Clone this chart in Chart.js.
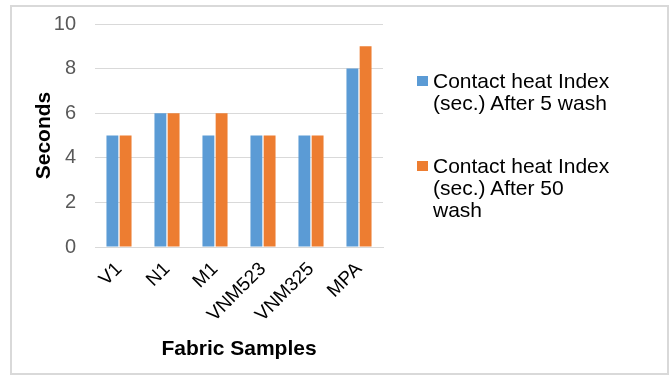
<!DOCTYPE html>
<html>
<head>
<meta charset="utf-8">
<script src="https://cdn.jsdelivr.net/npm/chart.js@4"></script>
<style>
  body { margin: 0; background: #fff; }
  #wrap { position: relative; width: 670px; height: 376px; }
  #frame { position: absolute; left: 10px; top: 5px; width: 655px; height: 366px; border: 2px solid #d9d9d9; }
  canvas { position: absolute; left: 0; top: 0; }
  .leg { position: absolute; left: 433px; font: 21px "Liberation Sans", Arial, sans-serif; line-height: 22px; color: #000; white-space: nowrap; }
  .box { position: absolute; left: -16px; top: 6px; width: 11px; height: 10px; }
</style>
</head>
<body>
<div id="wrap">
  <div id="frame"></div>
  <canvas id="grafico" width="670" height="376"></canvas>
  <div id="legenda"></div>
</div>
<script>
// DADOS
const categorias = ["V1", "N1", "M1", "VNM523", "VNM325", "MPA"];
const serie5 = [5, 6, 5, 5, 5, 8];
const serie50 = [5, 6, 6, 5, 5, 9];
const nomes = [
  ["Contact heat Index", "(sec.) After 5 wash"],
  ["Contact heat Index", "(sec.) After 50", "wash"],
];
const cores = ["#5B9BD5", "#ED7D31"];

const fonte = "'Liberation Sans', Arial, sans-serif";

const grafico = new Chart(document.querySelector("#grafico"), {
  type: "bar",
  data: {
    labels: categorias,
    datasets: [
      { label: nomes[0].join(" "), data: serie5, backgroundColor: cores[0] },
      { label: nomes[1].join(" "), data: serie50, backgroundColor: cores[1] },
    ],
  },
  options: {
    responsive: false,
    animation: false,
    layout: { padding: { left: 35, top: 24, right: 287, bottom: 14 } },
    plugins: { legend: { display: false }, tooltip: { enabled: false } },
    datasets: { bar: { categoryPercentage: 0.55, barPercentage: 0.9 } },
    scales: {
      x: {
        grid: { display: false },
        border: { color: "#d9d9d9" },
        ticks: { color: "#000", font: { family: fonte, size: 19 }, minRotation: 45, maxRotation: 45 },
        title: { display: true, text: "Fabric Samples", color: "#000", font: { family: fonte, size: 21, weight: "bold" }, padding: { top: 8, bottom: 0 } },
        afterFit: (s) => { s.height = 115; s.paddingLeft = 0; s.paddingRight = 0; },
      },
      y: {
        min: 0,
        max: 10,
        ticks: { stepSize: 2, color: "#595959", font: { family: fonte, size: 20 }, padding: 19 },
        grid: { color: "#d9d9d9", drawTicks: false },
        border: { display: false },
        title: { display: true, text: "Seconds", color: "#000", font: { family: fonte, size: 21, weight: "bold", lineHeight: 0.9 }, padding: 0 },
        afterFit: (s) => { s.width = 60; s.paddingTop = 0; s.paddingBottom = 0; },
      },
    },
  },
});

// LEGENDA
const legenda = document.querySelector("#legenda");
const topos = [70, 155];
nomes.forEach((linhas, i) => {
  const div = document.createElement("div");
  div.className = "leg";
  div.style.top = topos[i] + "px";
  div.innerHTML = `<span class="box" style="background:${cores[i]}"></span>${linhas.join("<br>")}`;
  legenda.appendChild(div);
});
</script>
</body>
</html>
